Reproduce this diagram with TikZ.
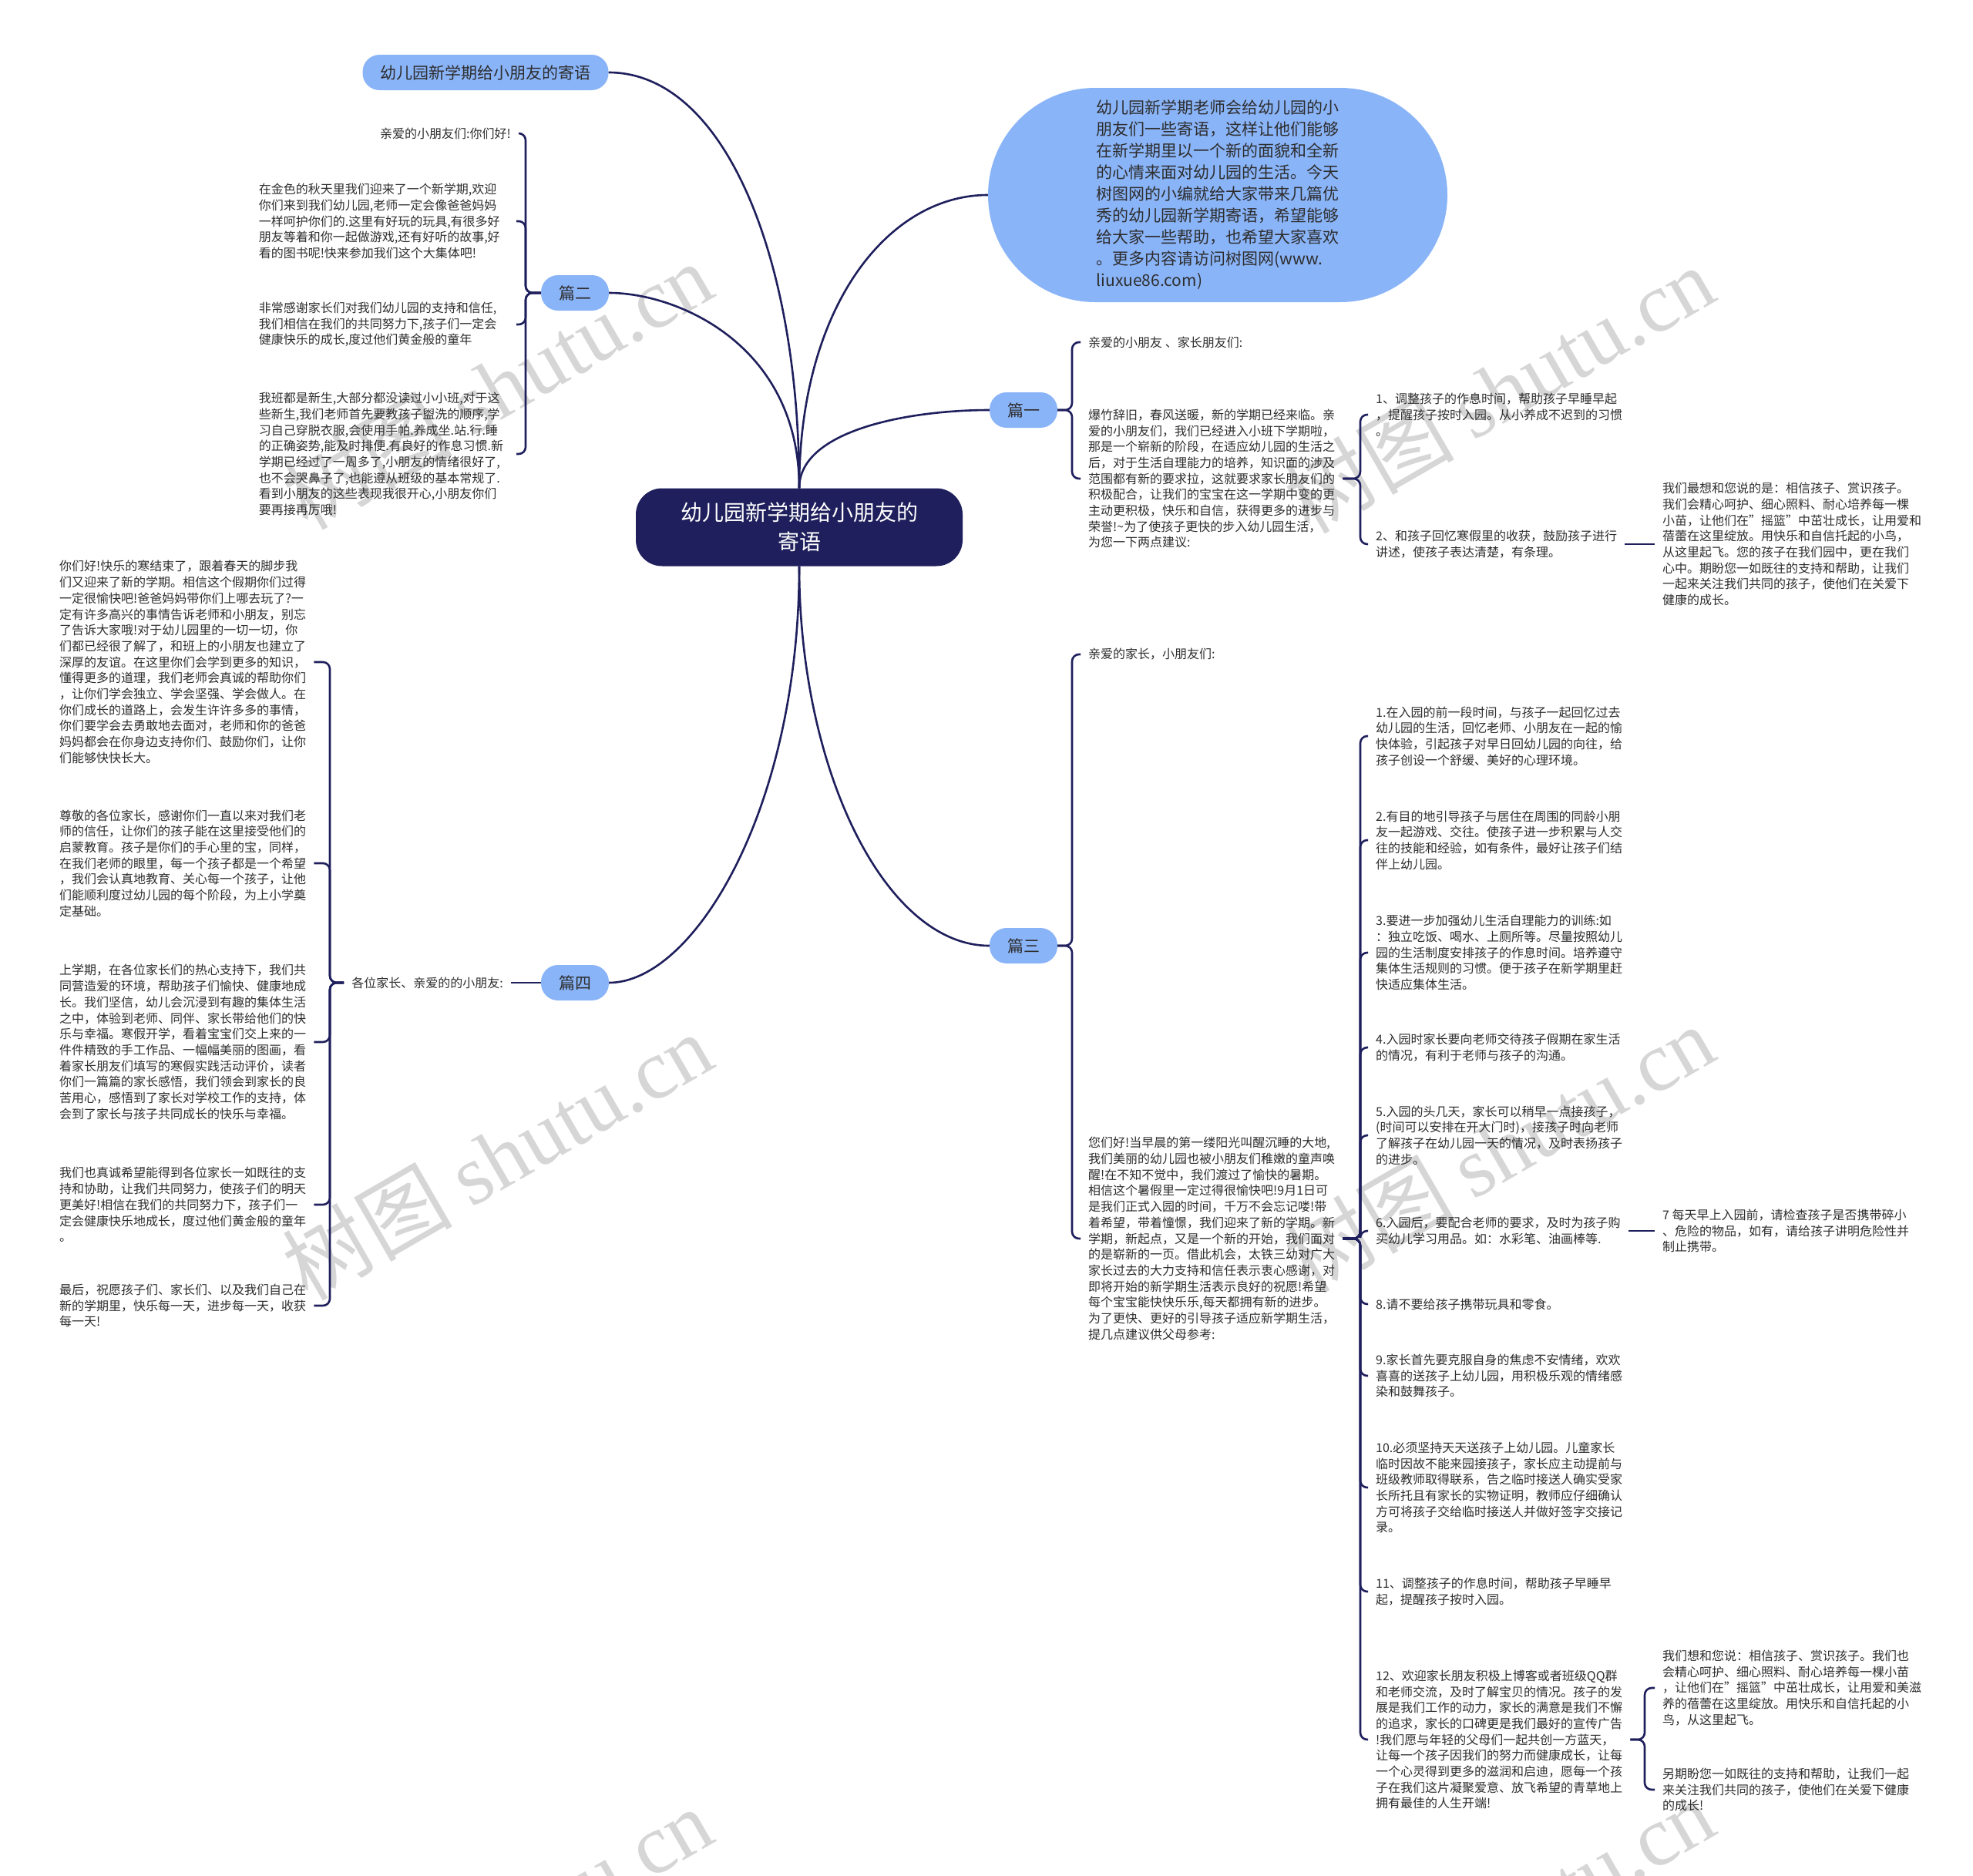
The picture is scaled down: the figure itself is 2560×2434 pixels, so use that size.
\documentclass[tikz,border=0pt]{standalone}
\usepackage{fontspec}
\setmainfont{Noto Sans CJK SC}
\newfontfamily\wmserif{Liberation Serif}
\definecolor{navy}{RGB}{30,31,92}
\definecolor{topicblue}{RGB}{138,180,248}
\definecolor{leaftext}{RGB}{45,45,45}
\definecolor{wmgray}{RGB}{214,214,214}

\begin{document}
\begin{tikzpicture}[x=1pt, y=-1pt,
	every node/.style={text=leaftext},
	line/.style={draw=navy, line width=2.6pt},
	link/.style={line, rounded corners=9pt},
	rootbox/.style={fill=navy, text=white, rounded corners=34pt, minimum width=424pt, minimum height=101pt, align=center, font=\fontsize{28}{38}\selectfont},
	topic/.style={fill=topicblue, rounded corners=22pt, minimum height=46pt, inner xsep=23pt, font=\fontsize{21}{26}\selectfont},
	bubble/.style={fill=topicblue, rounded corners=139pt, minimum width=596pt, minimum height=278pt, align=left, font=\fontsize{21}{28}\selectfont},
	leaf/.style={align=left, inner xsep=10pt, inner ysep=3pt, font=\fontsize{16}{20.7}\selectfont},
	wmtext/.style={text=wmgray, rotate=30, font=\fontsize{110}{110}\selectfont}]
	\useasboundingbox (0,0) rectangle (2560,2434);
	\foreach \x/\y [count=\k] in {645/500, 1945/505, 645/1500, 1945/1490, 645/2505, 1945/2495} {\node[wmtext] (wm\k) at (\x,\y) {树图 {\wmserif shutu.cn}};}

	\node[rootbox] (root) at (1037,684) {幼儿园新学期给小朋友的\\寄语};
	\node[topic] (title) at (630,94) {幼儿园新学期给小朋友的寄语};
	\node[topic] (p2) at (746,380) {篇二};
	\node[topic] (p1) at (1328,532) {篇一};
	\node[topic] (p3) at (1328,1227) {篇三};
	\node[topic] (p4) at (746,1275) {篇四};
	\node[bubble] (intro) at (1580,253) {幼儿园新学期老师会给幼儿园的小\\朋友们一些寄语，这样让他们能够\\在新学期里以一个新的面貌和全新\\的心情来面对幼儿园的生活。今天\\树图网的小编就给大家带来几篇优\\秀的幼儿园新学期寄语，希望能够\\给大家一些帮助，也希望大家喜欢\\。更多内容请访问树图网(www.\\liuxue86.com)};

	\draw[line] (root.north) .. controls +(0,-300) and +(150,0) .. (title.east);
	\draw[line] (root.north) .. controls +(0,-185) and +(90,0) .. (p2.east);
	\draw[line] (root.north) .. controls +(0,-235) and +(-130,0) .. (intro.west);
	\draw[line] (root.north) .. controls +(0,-75) and +(-105,0) .. (p1.west);
	\draw[line] (root.south) .. controls +(0,265) and +(-135,0) .. (p3.west);
	\draw[line] (root.south) .. controls +(0,315) and +(110,0) .. (p4.east);

	\node[leaf, anchor=east] (a1) at (673,173) {亲爱的小朋友们:你们好!};
	\node[leaf, anchor=east, text width=324pt] (a2) at (670,287) {在金色的秋天里我们迎来了一个新学期,欢迎\\你们来到我们幼儿园,老师一定会像爸爸妈妈\\一样呵护你们的.这里有好玩的玩具,有很多好\\朋友等着和你一起做游戏,还有好听的故事,好\\看的图书呢!快来参加我们这个大集体吧!};
	\node[leaf, anchor=east, text width=324pt] (a3) at (670,421) {非常感谢家长们对我们幼儿园的支持和信任,\\我们相信在我们的共同努力下,孩子们一定会\\健康快乐的成长,度过他们黄金般的童年};
	\node[leaf, anchor=east, text width=324pt] (a4) at (670,589) {我班都是新生,大部分都没读过小小班,对于这\\些新生,我们老师首先要教孩子盥洗的顺序,学\\习自己穿脱衣服,会使用手帕.养成坐.站.行.睡\\的正确姿势,能及时排便.有良好的作息习惯.新\\学期已经过了一周多了,小朋友的情绪很好了,\\也不会哭鼻子了,也能遵从班级的基本常规了.\\看到小朋友的这些表现我很开心,小朋友你们\\要再接再厉哦!};
	\foreach \n in {a1,a2,a3,a4} {\draw[link] (p2.west) -- (682,380) |- (\n.east);}

	\node[leaf, anchor=west] (b1) at (1402,444) {亲爱的小朋友 、家长朋友们:};
	\node[leaf, anchor=west] (b2) at (1402,621) {爆竹辞旧，春风送暖，新的学期已经来临。亲\\爱的小朋友们，我们已经进入小班下学期啦，\\那是一个崭新的阶段，在适应幼儿园的生活之\\后，对于生活自理能力的培养，知识面的涉及\\范围都有新的要求拉，这就要求家长朋友们的\\积极配合，让我们的宝宝在这一学期中变的更\\主动更积极，快乐和自信，获得更多的进步与\\荣誉!\textasciitilde 为了使孩子更快的步入幼儿园生活，\\为您一下两点建议:};
	\foreach \n in {b1,b2} {\draw[link] (p1.east) -- (1391,532) |- (\n.west);}
	\node[leaf, anchor=west] (c1) at (1775,538) {1、调整孩子的作息时间，帮助孩子早睡早起\\，提醒孩子按时入园。从小养成不迟到的习惯\\。};
	\node[leaf, anchor=west] (c2) at (1775,706) {2、和孩子回忆寒假里的收获，鼓励孩子进行\\讲述，使孩子表达清楚，有条理。};
	\foreach \n in {c1,c2} {\draw[link] (b2.east) -- (1765,621) |- (\n.west);}
	\node[leaf, anchor=west] (d1) at (2147,706) {我们最想和您说的是：相信孩子、赏识孩子。\\我们会精心呵护、细心照料、耐心培养每一棵\\小苗，让他们在"摇篮"中茁壮成长，让用爱和\\蓓蕾在这里绽放。用快乐和自信托起的小鸟，\\从这里起飞。您的孩子在我们园中，更在我们\\心中。期盼您一如既往的支持和帮助，让我们\\一起来关注我们共同的孩子，使他们在关爱下\\健康的成长。};
	\draw[line] (c2.east) -- (d1.west);

	\node[leaf, anchor=west] (e1) at (1402,849) {亲爱的家长，小朋友们:};
	\node[leaf, anchor=west] (e2) at (1402,1607) {您们好!当早晨的第一缕阳光叫醒沉睡的大地,\\我们美丽的幼儿园也被小朋友们稚嫩的童声唤\\醒!在不知不觉中，我们渡过了愉快的暑期。\\相信这个暑假里一定过得很愉快吧!9月1日可\\是我们正式入园的时间，千万不会忘记喽!带\\着希望，带着憧憬，我们迎来了新的学期。新\\学期，新起点，又是一个新的开始，我们面对\\的是崭新的一页。借此机会，太铁三幼对广大\\家长过去的大力支持和信任表示衷心感谢，对\\即将开始的新学期生活表示良好的祝愿!希望\\每个宝宝能快快乐乐,每天都拥有新的进步。\\为了更快、更好的引导孩子适应新学期生活，\\提几点建议供父母参考:};
	\foreach \n in {e1,e2} {\draw[link] (p3.east) -- (1391,1227) |- (\n.west);}
	\node[leaf, anchor=west] (f1) at (1775,955) {1.在入园的前一段时间，与孩子一起回忆过去\\幼儿园的生活，回忆老师、小朋友在一起的愉\\快体验，引起孩子对早日回幼儿园的向往，给\\孩子创设一个舒缓、美好的心理环境。};
	\node[leaf, anchor=west] (f2) at (1775,1090) {2.有目的地引导孩子与居住在周围的同龄小朋\\友一起游戏、交往。使孩子进一步积累与人交\\往的技能和经验，如有条件，最好让孩子们结\\伴上幼儿园。};
	\node[leaf, anchor=west] (f3) at (1775,1236) {3.要进一步加强幼儿生活自理能力的训练:如\\：独立吃饭、喝水、上厕所等。尽量按照幼儿\\园的生活制度安排孩子的作息时间。培养遵守\\集体生活规则的习惯。便于孩子在新学期里赶\\快适应集体生活。};
	\node[leaf, anchor=west] (f4) at (1775,1359) {4.入园时家长要向老师交待孩子假期在家生活\\的情况，有利于老师与孩子的沟通。};
	\node[leaf, anchor=west] (f5) at (1775,1473) {5.入园的头几天，家长可以稍早一点接孩子，\\(时间可以安排在开大门时)，接孩子时向老师\\了解孩子在幼儿园一天的情况，及时表扬孩子\\的进步。};
	\node[leaf, anchor=west] (f6) at (1775,1597) {6.入园后，要配合老师的要求，及时为孩子购\\买幼儿学习用品。如：水彩笔、油画棒等.};
	\node[leaf, anchor=west] (f8) at (1775,1692) {8.请不要给孩子携带玩具和零食。};
	\node[leaf, anchor=west] (f9) at (1775,1785) {9.家长首先要克服自身的焦虑不安情绪，欢欢\\喜喜的送孩子上幼儿园，用积极乐观的情绪感\\染和鼓舞孩子。};
	\node[leaf, anchor=west] (f10) at (1775,1930) {10.必须坚持天天送孩子上幼儿园。儿童家长\\临时因故不能来园接孩子，家长应主动提前与\\班级教师取得联系，告之临时接送人确实受家\\长所托且有家长的实物证明，教师应仔细确认\\方可将孩子交给临时接送人并做好签字交接记\\录。};
	\node[leaf, anchor=west] (f11) at (1775,2065) {11、调整孩子的作息时间，帮助孩子早睡早\\起，提醒孩子按时入园。};
	\node[leaf, anchor=west] (f12) at (1775,2257) {12、欢迎家长朋友积极上博客或者班级QQ群\\和老师交流，及时了解宝贝的情况。孩子的发\\展是我们工作的动力，家长的满意是我们不懈\\的追求，家长的口碑更是我们最好的宣传广告\\!我们愿与年轻的父母们一起共创一方蓝天，\\让每一个孩子因我们的努力而健康成长，让每\\一个心灵得到更多的滋润和启迪，愿每一个孩\\子在我们这片凝聚爱意、放飞希望的青草地上\\拥有最佳的人生开端!};
	\foreach \n in {f1,f2,f3,f4,f5,f6,f8,f9,f10,f11,f12} {\draw[link] (e2.east) -- (1765,1607) |- (\n.west);}
	\node[leaf, anchor=west] (g7) at (2147,1597) {7 每天早上入园前，请检查孩子是否携带碎小\\、危险的物品，如有，请给孩子讲明危险性并\\制止携带。};
	\draw[line] (f6.east) -- (g7.west);
	\node[leaf, anchor=west] (h1) at (2147,2190) {我们想和您说：相信孩子、赏识孩子。我们也\\会精心呵护、细心照料、耐心培养每一棵小苗\\，让他们在"摇篮"中茁壮成长，让用爱和美滋\\养的蓓蕾在这里绽放。用快乐和自信托起的小\\鸟，从这里起飞。};
	\node[leaf, anchor=west] (h2) at (2147,2322) {另期盼您一如既往的支持和帮助，让我们一起\\来关注我们共同的孩子，使他们在关爱下健康\\的成长!};
	\foreach \n in {h1,h2} {\draw[link] (f12.east) -- (2134,2257) |- (\n.west);}

	\node[leaf, anchor=east] (lbl) at (663,1275) {各位家长、亲爱的的小朋友:};
	\draw[line] (p4.west) -- (lbl.east);
	\node[leaf, anchor=west] (q1) at (67,859) {你们好!快乐的寒结束了，跟着春天的脚步我\\们又迎来了新的学期。相信这个假期你们过得\\一定很愉快吧!爸爸妈妈带你们上哪去玩了?一\\定有许多高兴的事情告诉老师和小朋友，别忘\\了告诉大家哦!对于幼儿园里的一切一切，你\\们都已经很了解了，和班上的小朋友也建立了\\深厚的友谊。在这里你们会学到更多的知识，\\懂得更多的道理，我们老师会真诚的帮助你们\\，让你们学会独立、学会坚强、学会做人。在\\你们成长的道路上，会发生许许多多的事情，\\你们要学会去勇敢地去面对，老师和你的爸爸\\妈妈都会在你身边支持你们、鼓励你们，让你\\们能够快快长大。};
	\node[leaf, anchor=west] (q2) at (67,1120) {尊敬的各位家长，感谢你们一直以来对我们老\\师的信任，让你们的孩子能在这里接受他们的\\启蒙教育。孩子是你们的手心里的宝，同样，\\在我们老师的眼里，每一个孩子都是一个希望\\，我们会认真地教育、关心每一个孩子，让他\\们能顺利度过幼儿园的每个阶段，为上小学奠\\定基础。};
	\node[leaf, anchor=west] (q3) at (67,1352) {上学期，在各位家长们的热心支持下，我们共\\同营造爱的环境，帮助孩子们愉快、健康地成\\长。我们坚信，幼儿会沉浸到有趣的集体生活\\之中，体验到老师、同伴、家长带给他们的快\\乐与幸福。寒假开学，看着宝宝们交上来的一\\件件精致的手工作品、一幅幅美丽的图画，看\\着家长朋友们填写的寒假实践活动评价，读者\\你们一篇篇的家长感悟，我们领会到家长的良\\苦用心，感悟到了家长对学校工作的支持，体\\会到了家长与孩子共同成长的快乐与幸福。};
	\node[leaf, anchor=west] (q4) at (67,1563) {我们也真诚希望能得到各位家长一如既往的支\\持和协助，让我们共同努力，使孩子们的明天\\更美好!相信在我们的共同努力下，孩子们一\\定会健康快乐地成长，度过他们黄金般的童年\\。};
	\node[leaf, anchor=west] (q5) at (67,1694) {最后，祝愿孩子们、家长们、以及我们自己在\\新的学期里，快乐每一天，进步每一天，收获\\每一天!};
	\foreach \n in {q1,q2,q3,q4,q5} {\draw[link] (lbl.west) -- (428,1275) |- (\n.east);}
\end{tikzpicture}
\end{document}
